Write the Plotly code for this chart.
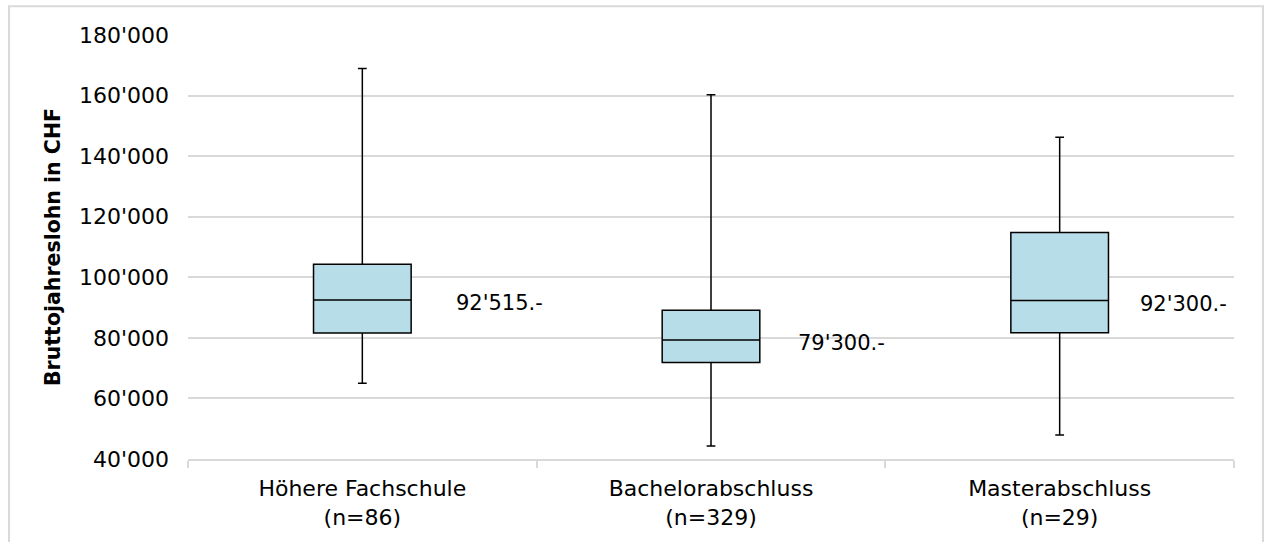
import plotly.graph_objects as go

categories = ["Höhere Fachschule<br>(n=86)", "Bachelorabschluss<br>(n=329)", "Masterabschluss<br>(n=29)"]
lower_whisker = [65000, 44300, 47900]
q1 = [81600, 71900, 81700]
median = [92515, 79300, 92300]
q3 = [104300, 89100, 114800]
upper_whisker = [168900, 160300, 146200]
median_labels = ["92'515.-", "79'300.-", "92'300.-"]
y_ticks = [40000, 60000, 80000, 100000, 120000, 140000, 160000, 180000]

FONT = "DejaVu Sans"

fig = go.Figure()
fig.add_trace(go.Box(
    x=categories,
    q1=q1, median=median, q3=q3,
    lowerfence=lower_whisker, upperfence=upper_whisker,
    fillcolor="#B7DEE8",
    line=dict(color="black", width=1.5),
    whiskerwidth=0.09,
    boxpoints=False,
    hoverinfo="skip",
    showlegend=False,
))

for i, (cat, m, lab) in enumerate(zip(categories, median, median_labels)):
    fig.add_annotation(
        x=cat, y=m, text=lab, showarrow=False,
        xanchor="left", yanchor="middle",
        xshift=92 - 7 * i, yshift=-3,
        font=dict(family=FONT, size=21, color="black"),
    )

# outer chart border
fig.add_shape(type="rect", xref="paper", yref="paper",
              x0=-0.1711, x1=1.0277, y0=-0.4, y1=1.0679,
              line=dict(color="#D9D9D9", width=2), layer="below")

fig.update_layout(
    width=1264, height=542,
    margin=dict(l=188, r=30, t=35, b=80),
    paper_bgcolor="white", plot_bgcolor="white",
    separators=".'",
    boxgap=0.6,
    hovermode=False,
    font=dict(family=FONT, size=20, color="black"),
    xaxis=dict(
        type="category",
        showgrid=False,
        showline=True, linecolor="#D9D9D9", linewidth=2,
        ticks="outside", tickson="boundaries", ticklen=7, tickcolor="#D9D9D9", tickwidth=2,
        ticklabelstandoff=9,
        tickfont=dict(family=FONT, size=22, color="black"),
        zeroline=False,
    ),
    yaxis=dict(
        range=[40000, 180000],
        tickvals=y_ticks,
        tickformat=",d",
        showgrid=True, gridcolor="#D9D9D9", gridwidth=2,
        showline=False, zeroline=False,
        ticks="", ticklabelstandoff=18,
        tickfont=dict(family=FONT, size=22, color="black"),
        title=dict(text="<b>Bruttojahreslohn in CHF</b>",
                   font=dict(family=FONT, size=20.5, color="black"), standoff=12),
    ),
)

fig.write_html("out.html", config={"displayModeBar": False},
               post_script="document.body.style.margin='0';")
